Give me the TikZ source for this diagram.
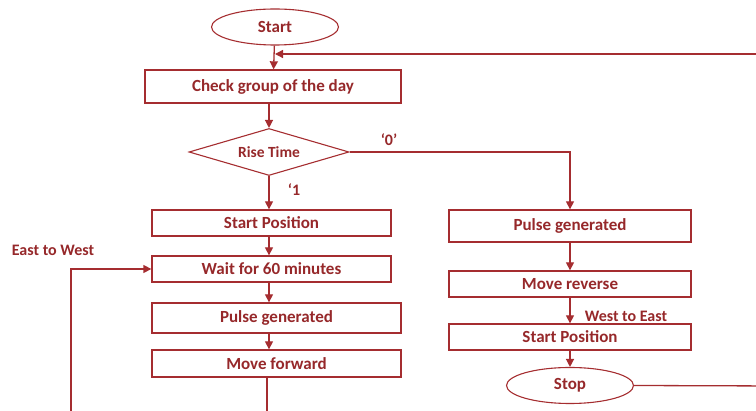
\documentclass[tikz,border=0pt]{standalone}
\usepackage{fontspec}
\setmainfont{Carlito}
\usetikzlibrary{arrows.meta,shapes.geometric}
\definecolor{dred}{RGB}{165,45,48}
\definecolor{tred}{RGB}{150,40,42}
\tikzset{
  every node/.style={font=\bfseries\fontsize{17}{19}\selectfont, text=tred},
  box/.style={draw=dred, line width=1.3pt, rectangle, inner sep=0pt},
  oval/.style={draw=dred, line width=1.1pt, ellipse, inner sep=0pt, minimum width=127pt, minimum height=36pt},
  dia/.style={draw=dred, line width=1.1pt, diamond, aspect=3.4, inner sep=0pt, minimum width=160pt, minimum height=47pt},
  conn/.style={draw=dred, line width=1.3pt},
  arr/.style={conn, -{Triangle[length=8pt,width=8pt]}},
  lbl/.style={font=\bfseries\fontsize{16}{18}\selectfont}
}
\begin{document}
\begin{tikzpicture}[x=1pt,y=-1pt]
\useasboundingbox (0,0) rectangle (756,411);
\clip (0,0) rectangle (756,411);
% nodes
\node[oval] (start) at (275,27) {Start};
\node[box, minimum width=256pt, minimum height=33pt] (check) at (273,86.5) {Check group of the day};
\node[dia] (rise) at (269,152) {\fontsize{15.5}{17}\selectfont Rise Time};
\node[box, minimum width=239pt, minimum height=26pt] (sp1) at (271.5,223) {Start Position};
\node[box, minimum width=239pt, minimum height=26pt] (wait) at (271.5,269) {Wait for 60 minutes};
\node[box, minimum width=249pt, minimum height=30pt] (pg1) at (276.5,318) {Pulse generated};
\node[box, minimum width=249pt, minimum height=27pt] (mf) at (276.5,363.5) {Move forward};
\node[box, minimum width=242pt, minimum height=32pt] (pg2) at (570,226) {Pulse generated};
\node[box, minimum width=242pt, minimum height=26pt] (mr) at (570,284) {Move reverse};
\node[box, minimum width=242pt, minimum height=26pt] (sp2) at (570,337) {Start Position};
\node[oval] (stop) at (570,385.5) {Stop};
% labels
\node[lbl] (l0) at (389,140) {‘0’};
\node[lbl] (l1) at (294,190) {‘1};
\node[lbl] (lew) at (53,250) {East to West};
\node[lbl] (lwe) at (626,316) {West to East};
% helper coordinates
\coordinate (rtop) at (780,54);
\coordinate (rbot) at (780,386);
\coordinate (lbot) at (71,430);
\coordinate (mbot) at (267,430);
\coordinate (loopin) at (check.north |- rtop);
% connectors
\draw[arr] (start) -- (check);
\draw[arr] (check.south -| rise.north) -- (rise.north);
\draw[arr] (rise.south) -- (sp1.north -| rise.south);
\draw[arr] (sp1.south -| rise.south) -- (wait.north -| rise.south);
\draw[arr] (wait.south -| rise.south) -- (pg1.north -| rise.south);
\draw[arr] (pg1.south -| rise.south) -- (mf.north -| rise.south);
\draw[conn] (mf.south -| mbot) -- (mbot);
\draw[arr] (lbot) |- (wait.west);
\draw[arr] (rise.east) -| (pg2.north);
\draw[arr] (pg2) -- (mr);
\draw[arr] (mr) -- (sp2);
\draw[arr] (sp2) -- (stop);
\draw[conn] (stop.east) -- (rbot) -- (rtop);
\draw[arr] (rtop) -- ([xshift=2pt]loopin);
\end{tikzpicture}
\end{document}
